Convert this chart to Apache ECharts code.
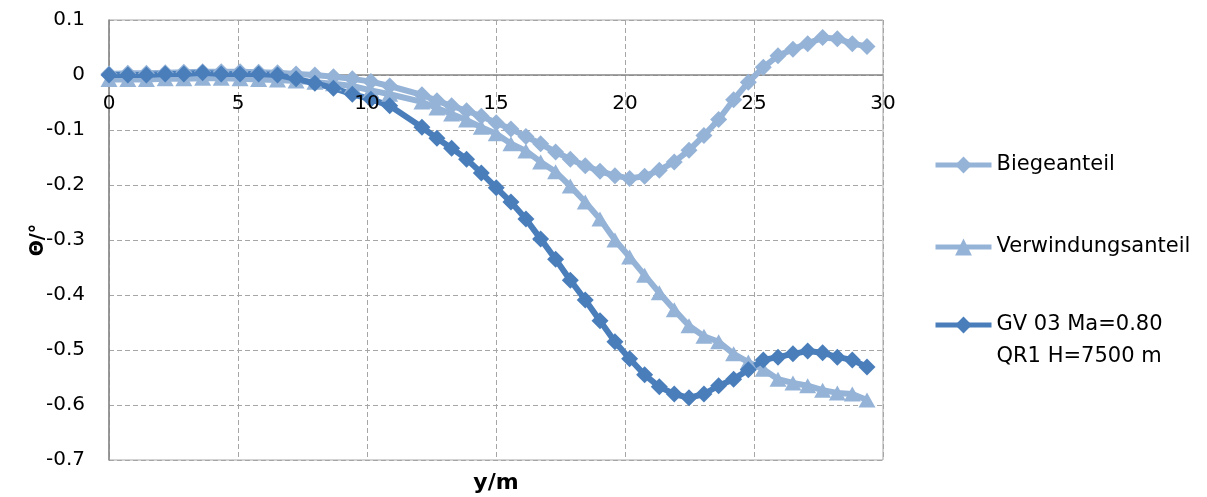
<!DOCTYPE html>
<html>
<head>
<meta charset="utf-8">
<script src="https://cdn.jsdelivr.net/npm/echarts@6/dist/echarts.min.js"></script>
<style>
  html, body { margin: 0; padding: 0; background: #fff; }
  #chart { width: 1207px; height: 497px; }
</style>
</head>
<body>
<div id="chart"></div>
<script>
// Spanwise stations y [m]
const yPos = [0, 0.73, 1.45, 2.18, 2.9, 3.63, 4.35, 5.08, 5.8, 6.53, 7.25, 7.98, 8.7, 9.43, 10.15, 10.88,
  12.13, 12.71, 13.28, 13.86, 14.43, 15.01, 15.58, 16.16, 16.73, 17.31, 17.88, 18.46, 19.03, 19.61, 20.18,
  20.76, 21.33, 21.91, 22.48, 23.06, 23.63, 24.21, 24.78, 25.36, 25.93, 26.51, 27.08, 27.66, 28.23, 28.81, 29.38];

// Twist angle Θ [°]: bending part
const biegeanteil = [0.002, 0.003, 0.003, 0.004, 0.005, 0.006, 0.006, 0.006, 0.005, 0.004, 0.002, 0.0, -0.003, -0.007, -0.012, -0.02,
  -0.036, -0.047, -0.056, -0.065, -0.075, -0.087, -0.098, -0.112, -0.125, -0.14, -0.153, -0.165, -0.175, -0.183, -0.188,
  -0.184, -0.173, -0.158, -0.137, -0.11, -0.081, -0.045, -0.013, 0.014, 0.035, 0.047, 0.057, 0.068, 0.066, 0.057, 0.052];

// Torsion part
const verwindungsanteil = [-0.008, -0.008, -0.008, -0.007, -0.007, -0.006, -0.006, -0.007, -0.008, -0.009, -0.011, -0.013, -0.016, -0.02, -0.028, -0.035,
  -0.049, -0.06, -0.071, -0.082, -0.095, -0.107, -0.125, -0.138, -0.158, -0.176, -0.202, -0.231, -0.262, -0.3, -0.331,
  -0.364, -0.396, -0.427, -0.456, -0.475, -0.485, -0.507, -0.522, -0.535, -0.553, -0.56, -0.565, -0.573, -0.578, -0.58, -0.591];

// Total
const gesamt = [0, 0, 0, 0.002, 0.002, 0.004, 0.002, 0.002, 0.002, 0, -0.007, -0.015, -0.024, -0.035, -0.044, -0.056,
  -0.095, -0.115, -0.133, -0.153, -0.178, -0.205, -0.231, -0.262, -0.298, -0.335, -0.373, -0.409, -0.447, -0.485, -0.516,
  -0.545, -0.567, -0.58, -0.587, -0.58, -0.565, -0.553, -0.536, -0.518, -0.513, -0.507, -0.502, -0.505, -0.513, -0.518, -0.531];

const seriesNames = ['Biegeanteil', 'Verwindungsanteil', 'GV 03 Ma=0.80\nQR1 H=7500 m'];
const xAxisTitle = 'y/m';
const yAxisTitle = 'Θ/°';

const X_MIN = 0, X_MAX = 30, X_STEP = 5;
const Y_MIN = -0.7, Y_MAX = 0.1, Y_STEP = 0.1;

const FONT = '"DejaVu Sans", sans-serif';
const LIGHT = '#95B3D7';
const DARK = '#4A7EBB';
const GRID_LINE = { show: true, lineStyle: { color: '#a6a6a6', type: [5, 3], width: 1 } };

// plot area
const W = 1207, H = 497;
const GRID = { left: 109, right: 324, top: 20, bottom: 37 };
const plotWidth = W - GRID.left - GRID.right;
const plotHeight = H - GRID.top - GRID.bottom;
// lift the horizontal axis (and its labels) up to the Θ = 0 line
const zeroOffset = -plotHeight * (0 - Y_MIN) / (Y_MAX - Y_MIN);

const pairs = vals => yPos.map((x, i) => [x, vals[i]]);

const chart = echarts.init(document.getElementById('chart'), null, { renderer: 'canvas' });

const legendBase = {
  orient: 'vertical',
  left: 928,
  itemWidth: 56,
  itemHeight: 21,
  itemGap: 0,
  selectedMode: false,
  lineStyle: { width: 5 },
  textStyle: { fontFamily: FONT, fontSize: 21, color: '#000', lineHeight: 26 }
};

chart.setOption({
  animation: false,
  backgroundColor: '#fff',
  grid: Object.assign({ show: true, borderColor: '#a6a6a6', borderWidth: 1 }, GRID),
  legend: [
    Object.assign({}, legendBase, { top: 147, data: [seriesNames[0]] }),
    Object.assign({}, legendBase, { top: 229, data: [seriesNames[1]] }),
    Object.assign({}, legendBase, {
      top: 272, data: [seriesNames[2]],
      // empty leading line keeps the marker beside the first text line
      formatter: name => '\n' + name,
      textStyle: { fontFamily: FONT, fontSize: 21, color: '#000', lineHeight: 32 }
    })
  ],
  graphic: [{
    type: 'text',
    x: GRID.left + plotWidth / 2, y: 483,
    style: { text: xAxisTitle, font: 'bold 22px ' + FONT, fill: '#000', align: 'center', verticalAlign: 'middle' }
  }],
  xAxis: [
    {
      // zero line and vertical grid lines, below the curves
      type: 'value', min: X_MIN, max: X_MAX, interval: X_STEP,
      offset: zeroOffset,
      axisLine: { onZero: false, lineStyle: { color: '#868686', width: 1.5 } },
      axisTick: { show: false },
      axisLabel: { show: false },
      splitLine: GRID_LINE
    },
    {
      // tick labels drawn above the curves
      type: 'value', min: X_MIN, max: X_MAX, interval: X_STEP,
      position: 'bottom', offset: zeroOffset, z: 10,
      axisLine: { show: false, onZero: false },
      axisTick: { show: false },
      axisLabel: { margin: 19, fontFamily: FONT, fontSize: 20, color: '#000' },
      splitLine: { show: false }
    }
  ],
  yAxis: {
    type: 'value', min: Y_MIN, max: Y_MAX, interval: Y_STEP,
    name: yAxisTitle, nameLocation: 'middle', nameGap: 61, nameRotate: 90,
    nameMoveOverlap: false,
    nameTextStyle: { fontFamily: FONT, fontSize: 19, fontWeight: 'bold', color: '#000' },
    axisLine: { show: true, lineStyle: { color: '#868686', width: 1.5 } },
    axisTick: { show: false },
    axisLabel: { margin: 24, fontFamily: FONT, fontSize: 20, color: '#000' },
    splitLine: GRID_LINE
  },
  series: [
    {
      name: seriesNames[0], type: 'line', data: pairs(biegeanteil),
      symbol: 'diamond', symbolSize: 17, color: LIGHT,
      lineStyle: { width: 6, color: LIGHT }, itemStyle: { color: LIGHT }
    },
    {
      name: seriesNames[1], type: 'line', data: pairs(verwindungsanteil),
      symbol: 'triangle', symbolSize: [17, 15], color: LIGHT,
      lineStyle: { width: 6, color: LIGHT }, itemStyle: { color: LIGHT }
    },
    {
      name: seriesNames[2], type: 'line', data: pairs(gesamt),
      symbol: 'diamond', symbolSize: 17, color: DARK,
      lineStyle: { width: 6, color: DARK }, itemStyle: { color: DARK }
    }
  ]
});
</script>
</body>
</html>
